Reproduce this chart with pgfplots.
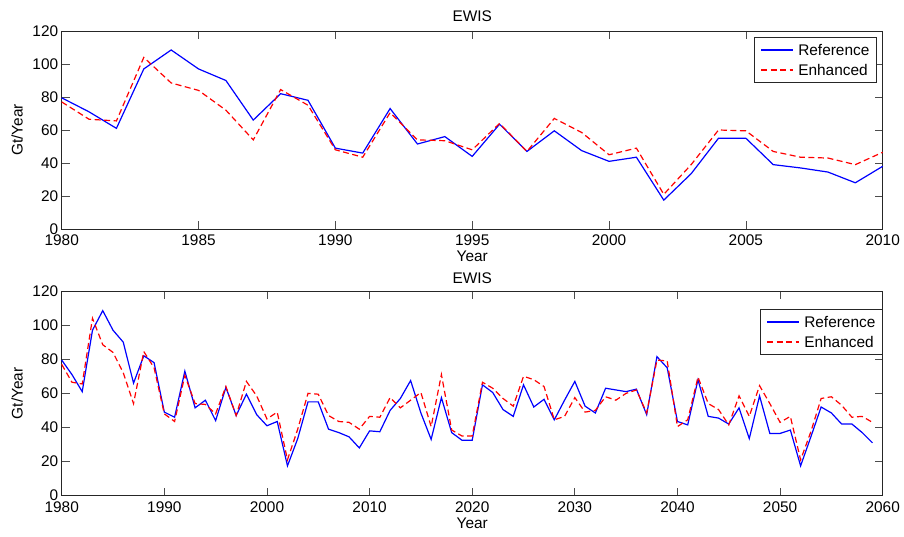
\documentclass[border=0pt]{standalone}
\usepackage{fontspec}
\setmainfont{Liberation Sans}
\usepackage{pgfplots}
\usepackage{pgfplotstable}
\pgfplotsset{compat=1.18}

\newcommand\chartfont{\fontsize{15.4pt}{18pt}\selectfont}

% year, reference, enhanced (Gt/Year)
\pgfplotstableread{
year ref enh
1980 79.5 77
1981 71 66.5
1982 61 65.5
1983 97 104
1984 108.5 88.5
1985 97 84
1986 90 72
1987 66 54
1988 82 84.5
1989 78 75
1990 49 48
1991 46 43.5
1992 73 70.5
1993 51.5 54
1994 56 53.5
1995 44 48
1996 63.5 64
1997 47 47
1998 59.5 67
1999 47.5 58.5
2000 41 45
2001 43.5 49
2002 17.5 21
2003 33.5 39
2004 55 60
2005 55 59.5
2006 39 47
2007 37 43.5
2008 34.5 43
2009 28 39
2010 38 46.5
2011 37.5 46
2012 50 57.5
2013 57 51.5
2014 67.5 56
2015 48.5 60.5
2016 33 40.5
2017 57.5 71
2018 37 38.5
2019 32.5 35
2020 32.5 35
2021 65 66.5
2022 60.5 63
2023 50.5 57
2024 46.5 52.5
2025 65 70
2026 52 68
2027 56.5 64
2028 44.5 44.5
2029 56 46.5
2030 67 57.5
2031 52.5 49
2032 48.5 50
2033 63 58
2034 62 56
2035 61 60
2036 62.5 62
2037 47.5 48.5
2038 81.5 79.5
2039 75 79
2040 43.5 40.5
2041 41.5 44.5
2042 68 69.5
2043 46.5 54
2044 45.5 50.5
2045 42 41.5
2046 51.5 58.5
2047 33.5 46.5
2048 58.5 64.5
2049 36.5 54
2050 36.5 43
2051 38.5 46.5
2052 17.5 21
2053 34.5 37.5
2054 52 57
2055 48.5 58
2056 42 53
2057 42 46
2058 37 46.5
2059 31 43
}\ewis

\pgfplotsset{
  ewis/.style={
    scale only axis,
    width=821pt,
    anchor=south west,
    ymin=0, ymax=120,
    ytick={0,20,...,120},
    tick align=inside,
    major tick length=8pt,
    axis line style={black!85, line width=0.7pt},
    every tick/.style={black!70, line width=0.7pt},
    tick label style={font=\chartfont},
    /pgf/number format/assume math mode=true,
    /pgf/number format/1000 sep={},
    xticklabel style={anchor=base, yshift=-17pt},
    label style={font=\chartfont},
    xlabel={Year},
    ylabel={Gt/Year},
    xlabel style={at={(axis description cs:0.5,0)}, anchor=base, yshift=-33pt},
    ylabel style={at={(axis description cs:-0.0475,0.5)}, anchor=base},
    title={EWIS},
    clip=false,
  },
}
\tikzset{
  refline/.style={blue, line width=1.2pt},
  enhline/.style={red, line width=1.2pt, dash pattern=on 6pt off 3.5pt},
}

% legend box: #1 = shift from the axis' upper right corner
\newcommand\ewislegend[1]{%
  \node[draw=black!85, line width=0.6pt, fill=white, anchor=north east,
        minimum width=122pt, minimum height=45pt, inner sep=0pt]
    (leg) at ([#1]rel axis cs:1,1) {};
  \draw[refline] ([xshift=7pt, yshift=-13pt]leg.north west) -- ++(32pt,0pt);
  \draw[enhline] ([xshift=7pt, yshift=-33pt]leg.north west) -- ++(32pt,0pt);
  \node[font=\chartfont, anchor=west, inner sep=0pt]
    at ([xshift=44pt, yshift=-13pt]leg.north west) {Reference};
  \node[font=\chartfont, anchor=west, inner sep=0pt]
    at ([xshift=44pt, yshift=-33pt]leg.north west) {Enhanced};
}

\begin{document}
\begin{tikzpicture}
\path[use as bounding box] (0,0) rectangle (904pt,537pt);

\begin{axis}[ewis,
  at={(61.7pt,308pt)},
  height=198pt,
  xmin=1980, xmax=2010,
  xtick={1980,1985,...,2010},
  title style={font=\chartfont, yshift=0pt},
]
\addplot[refline, mark=none, restrict x to domain=1980:2010] table[x=year, y=ref] {\ewis};
\addplot[enhline, mark=none, restrict x to domain=1980:2010] table[x=year, y=enh] {\ewis};
\ewislegend{xshift=-6pt, yshift=-6pt}
\end{axis}

\begin{axis}[ewis,
  at={(61.7pt,41.3pt)},
  height=204.7pt,
  xmin=1980, xmax=2060,
  xtick={1980,1990,...,2060},
  title style={font=\chartfont, yshift=-2pt},
]
\addplot[refline, mark=none] table[x=year, y=ref] {\ewis};
\addplot[enhline, mark=none] table[x=year, y=enh] {\ewis};
\ewislegend{yshift=-18pt}
\end{axis}
\end{tikzpicture}
\end{document}
